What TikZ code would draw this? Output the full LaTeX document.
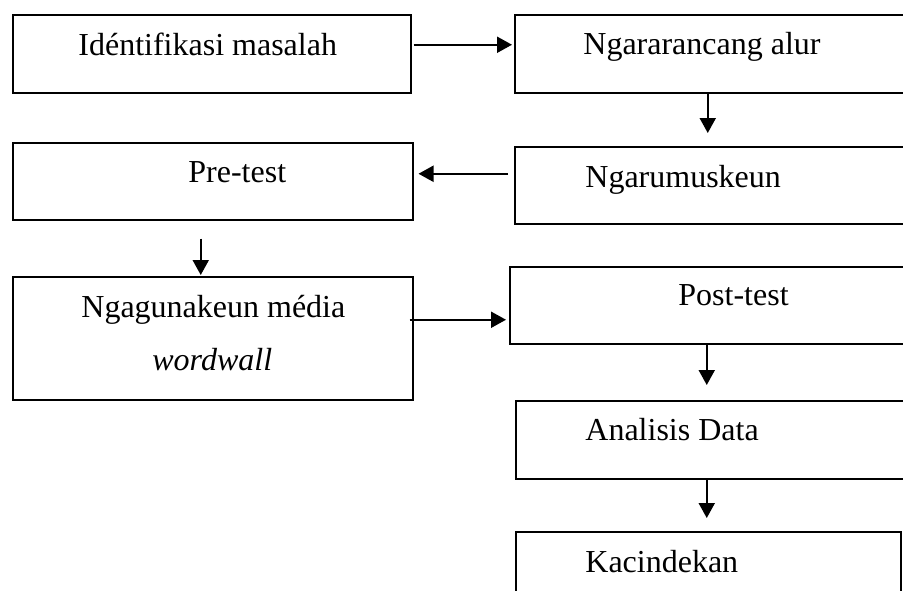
\documentclass[tikz,border=0pt]{standalone}
\usepackage{fontspec}
\setmainfont{Liberation Serif}
\usetikzlibrary{arrows.meta,calc}
\begin{document}
\begin{tikzpicture}[x=0.5pt,y=-0.5pt,
  box/.style={draw,line width=0.75pt,inner sep=0pt,anchor=north west},
  lbl/.style={inner sep=0pt,anchor=base west,font=\fontsize{16}{19}\selectfont},
  arr/.style={line width=1pt,-{Triangle[length=7.5pt,width=8pt]}}]
\useasboundingbox (0,0) rectangle (903,590);
\clip (0,0) rectangle (903,590);
% boxes
\node[box,minimum width=199pt,minimum height=39pt] (b1) at (12,14) {};
\node[box,minimum width=203pt,minimum height=39pt] (b2) at (514,14) {};
\node[box,minimum width=203pt,minimum height=38.5pt] (b3) at (514,146) {};
\node[box,minimum width=200pt,minimum height=38.5pt] (b4) at (12,142) {};
\node[box,minimum width=200pt,minimum height=61.5pt] (b5) at (12,276) {};
\node[box,minimum width=205.5pt,minimum height=38.5pt] (b6) at (509,266) {};
\node[box,minimum width=202.5pt,minimum height=39pt] (b7) at (515,400) {};
\node[box,minimum width=192.5pt,minimum height=44.5pt] (b8) at (515,531) {};
% texts
\node[lbl] (t1) at (78,55) {Idéntifikasi masalah};
\node[lbl] (t2) at (583,54) {Ngararancang alur};
\node[lbl] (t3) at (585,187) {Ngarumuskeun};
\node[lbl] (t4) at (188,182) {Pre-test};
\node[lbl] (t5) at (81,317) {Ngagunakeun média};
\node[lbl] (t6) at (152,370) {\itshape wordwall};
\node[lbl] (t7) at (678,305) {Post-test};
\node[lbl] (t8) at (585,440) {Analisis Data};
\node[lbl] (t9) at (585,572) {Kacindekan};
% connectors
\draw[arr] ($(b1.east)+(2,-9)$) -- ($(b2.west)+(-2,-9)$);
\draw[arr] ($(b2.south)+(-10,0)$) -- ($(b3.north)+(-10,-13)$);
\draw[arr] ($(b3.west)+(-6,-11.5)$) -- ($(b4.east)+(5,-7.5)$);
\draw[arr] ($(b4.south)+(-12,18)$) -- ($(b5.north)+(-12,-1)$);
\draw[arr] ($(b5.east)+(-4,-18.5)$) -- ($(b6.west)+(-3,14.5)$);
\draw[arr] ($(b6.south)+(-8.5,0)$) -- ($(b7.north)+(-11.5,-15)$);
\draw[arr] ($(b7.south)+(-11.5,0)$) -- ($(b8.north)+(-1.5,-13)$);
\end{tikzpicture}
\end{document}
